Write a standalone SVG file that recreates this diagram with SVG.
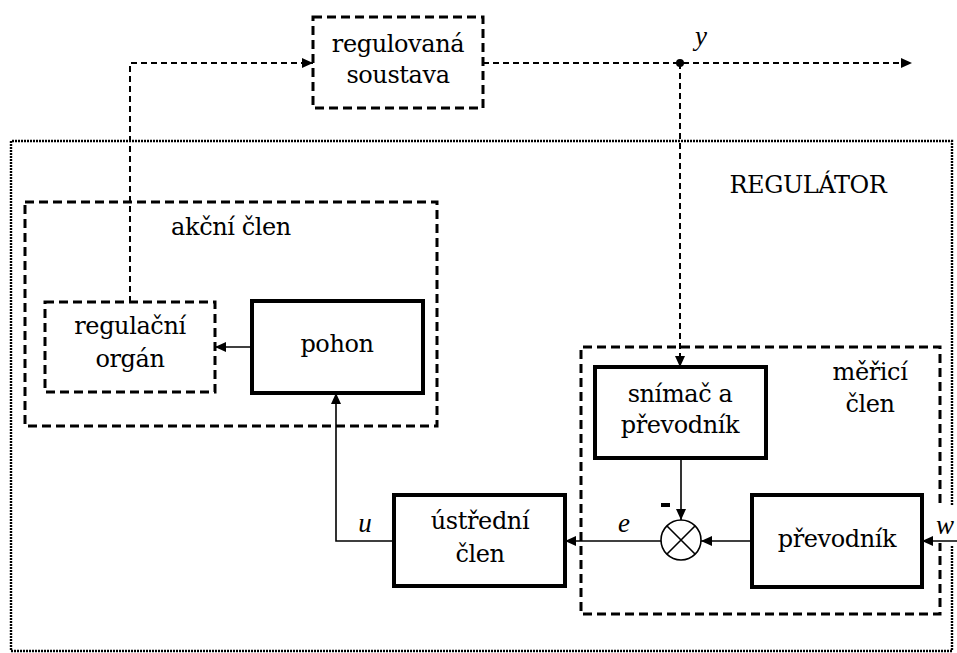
<svg xmlns="http://www.w3.org/2000/svg" width="957" height="653" viewBox="0 0 957 653">
  <defs>
    <marker id="arrow" markerUnits="userSpaceOnUse" markerWidth="11" markerHeight="10" refX="11" refY="5" orient="auto">
      <path d="M0,0 L11,5 L0,10 z" fill="#000"/>
    </marker>
    <style>
      text { font-family: 'DejaVu Serif', 'Liberation Serif', serif; font-size: 24px; letter-spacing: -0.4px; fill: #000; text-anchor: middle; }
      .var { font-family: 'Liberation Serif', 'DejaVu Serif', serif; font-size: 27px; letter-spacing: 0; font-style: italic; }
      .solid-box { fill: #fff; stroke: #000; stroke-width: 4; }
      .dash-box { fill: none; stroke: #000; stroke-width: 3; stroke-dasharray: 9 5; }
      .dot-box { fill: none; stroke: #000; stroke-width: 2.4; stroke-dasharray: 2 1; }
      .sig { fill: none; stroke: #000; stroke-width: 1.6; }
      .sig-dash { fill: none; stroke: #000; stroke-width: 2; stroke-dasharray: 6 4; }
    </style>
  </defs>
  <rect width="957" height="653" fill="#fff"/>

  <!-- controller boundary (dotted) -->
  <g id="regulator">
    <path class="dot-box" d="M952,505 V141 H11 V651 H952 V545"/>
    <text x="808" y="193">REGULÁTOR</text>
  </g>

  <!-- actuator group -->
  <g id="akcni-clen">
    <rect class="dash-box" x="25" y="202" width="412" height="224"/>
    <text x="231" y="235">akční člen</text>
  </g>

  <!-- measuring group -->
  <g id="merici-clen">
    <path class="dash-box" d="M940,503 V347 H581 V614 H940 V543"/>
    <text x="870" y="380">měřicí</text>
    <text x="870" y="412">člen</text>
  </g>

  <g id="regulovana-soustava">
    <rect class="dash-box" x="313" y="17" width="170" height="91" fill="#fff"/>
    <text x="398" y="52">regulovaná</text>
    <text x="398" y="83">soustava</text>
  </g>

  <g id="regulacni-organ">
    <rect class="dash-box" x="45" y="302" width="170" height="90"/>
    <text x="130" y="334">regulační</text>
    <text x="130" y="367">orgán</text>
  </g>

  <g id="pohon">
    <rect class="solid-box" x="252" y="301" width="171" height="92"/>
    <text x="337" y="352">pohon</text>
  </g>

  <g id="ustredni-clen">
    <rect class="solid-box" x="394" y="495" width="171" height="91"/>
    <text x="480" y="529">ústřední</text>
    <text x="480" y="562">člen</text>
  </g>

  <g id="snimac">
    <rect class="solid-box" x="595" y="367" width="171" height="91"/>
    <text x="680" y="402">snímač a</text>
    <text x="680" y="433">převodník</text>
  </g>

  <g id="prevodnik">
    <rect class="solid-box" x="752" y="495" width="170" height="92"/>
    <text x="837" y="547">převodník</text>
  </g>

  <g id="soucet">
    <circle cx="681" cy="540" r="20" fill="#fff" stroke="#000" stroke-width="1.6"/>
    <path d="M667,526 L695,554 M695,526 L667,554" stroke="#000" stroke-width="1.6"/>
    <rect x="661" y="503" width="9" height="4" fill="#000"/>
  </g>

  <!-- signal lines -->
  <g id="connectors">
    <path class="sig-dash" d="M130,302 V63 H313" marker-end="url(#arrow)"/>
    <path class="sig-dash" d="M483,63 H912" marker-end="url(#arrow)"/>
    <circle cx="680" cy="63" r="4" fill="#000"/>
    <path class="sig-dash" d="M680,63 V367" marker-end="url(#arrow)"/>
    <path class="sig" d="M252,347 H215" marker-end="url(#arrow)"/>
    <path class="sig" d="M394,541 H336 V393" marker-end="url(#arrow)"/>
    <path class="sig" d="M661,541 H565" marker-end="url(#arrow)"/>
    <path class="sig" d="M681,458 V520" marker-end="url(#arrow)"/>
    <path class="sig" d="M752,541 H701" marker-end="url(#arrow)"/>
    <path class="sig" d="M957,541 H922" marker-end="url(#arrow)"/>
  </g>

  <g id="signal-labels">
    <text class="var" x="701" y="45">y</text>
    <text class="var" x="365" y="532">u</text>
    <text class="var" x="624" y="532">e</text>
    <text class="var" x="945" y="534">w</text>
  </g>
</svg>
